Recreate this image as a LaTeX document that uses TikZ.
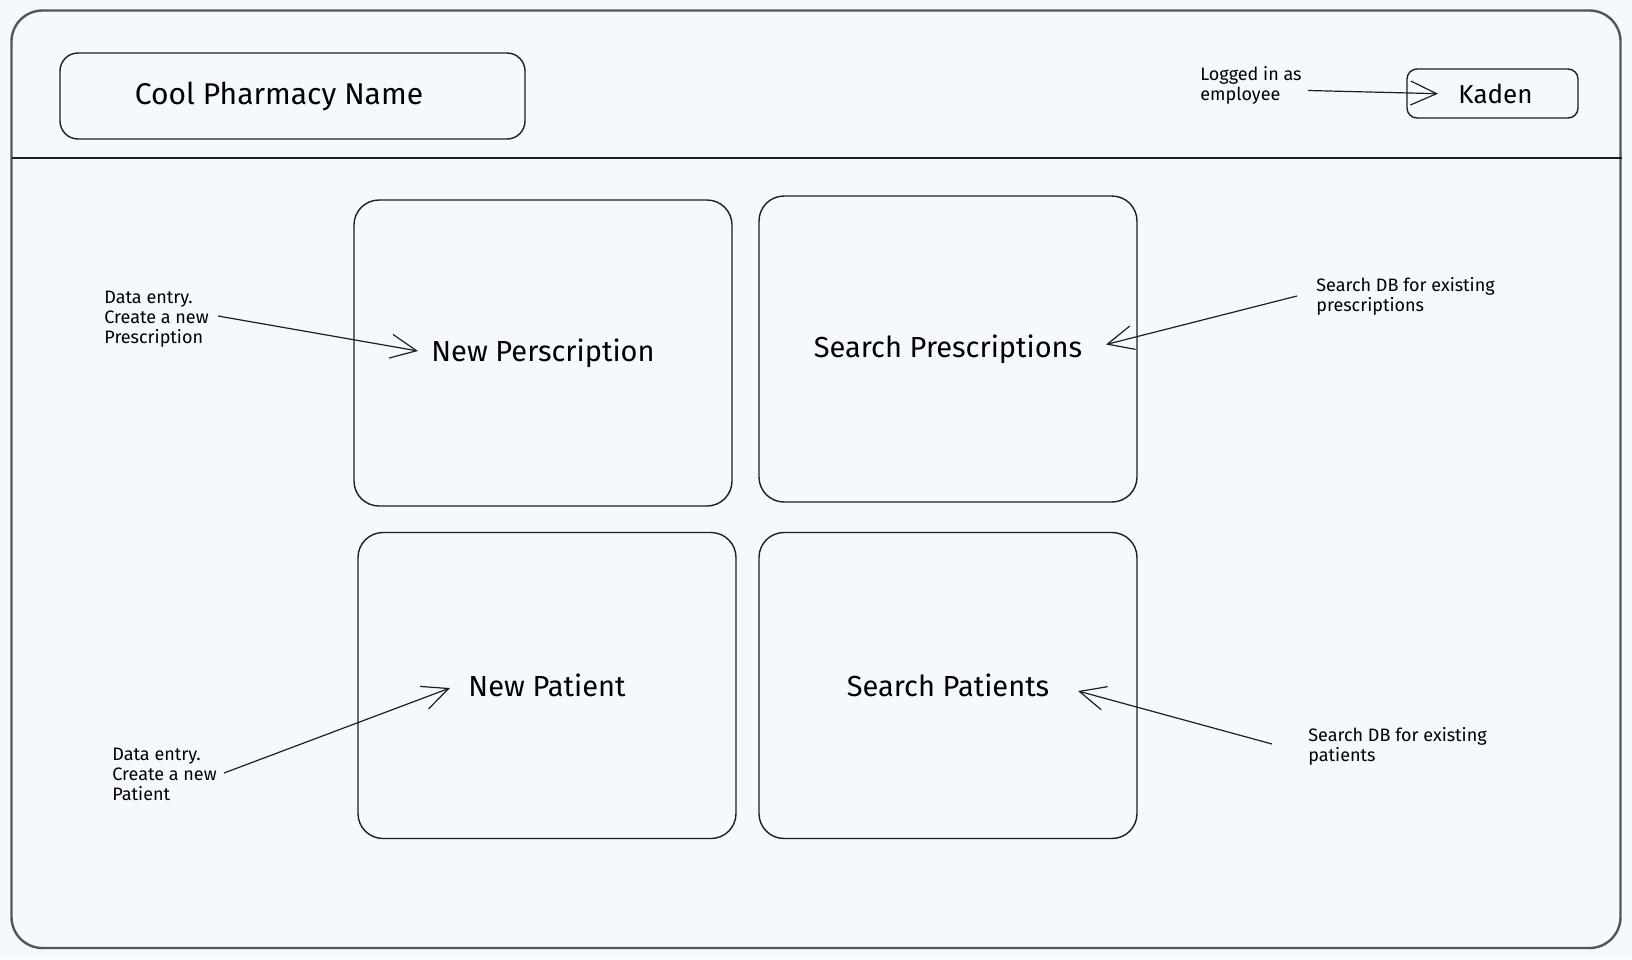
\documentclass[tikz,border=0pt]{standalone}
\usepackage{fontspec}
\setmainfont{Fira Sans}
\usetikzlibrary{arrows.meta}
\definecolor{fond}{RGB}{245, 249, 253}
\definecolor{trait}{RGB}{30, 30, 30}
\definecolor{cadre}{RGB}{85, 85, 85}

\begin{document}
\begin{tikzpicture}[x=0.5pt,y=-0.5pt,
	boite/.style={draw=trait, line width=0.7pt, rounded corners=12.5pt, minimum width=189pt, minimum height=153pt, inner sep=0pt, font=\fontsize{14.5}{17}\selectfont},
	fleche/.style={draw=trait, line width=0.6pt, -{Straight Barb[length=13pt,width=12pt]}},
	note/.style={align=left, anchor=north west, inner sep=0pt, font=\fontsize{9}{9.8}\selectfont}]
				\useasboundingbox[fill=fond] (0,0) rectangle (1632,959);
				\draw[cadre, line width=1.2pt, rounded corners=15.5pt] (11.5,10.5) rectangle (1620.5,948); % le cadre
				\draw[trait, line width=0.7pt] (11.5,158) -- (1622,158); % l'en-tete
				\node[draw=trait, line width=0.7pt, rounded corners=9pt, minimum width=232.5pt, minimum height=43pt, font=\fontsize{15}{18}\selectfont] (nom) at (292.5,96) {Cool Pharmacy Name\hspace*{13.5pt}};
				\node[draw=trait, line width=0.7pt, rounded corners=5pt, minimum width=85.5pt, minimum height=24.5pt, font=\fontsize{13}{16}\selectfont] (kaden) at (1492.5,93.5) {\hspace*{3pt}Kaden};
				\node[boite] (newpresc) at (543,353) {\raisebox{-1.5pt}{New Perscription}};
				\node[boite] (searchpresc) at (948,349) {\raisebox{-1.5pt}{Search Prescriptions}};
				\node[boite] (newpat) at (547,685.5) {New Patient};
				\node[boite] (searchpat) at (948,685.5) {Search Patients};
				\node[note] (logged) at (1200,66) {Logged in as\\employee};
				\node[note] (n1) at (104,291) {Data entry.\\Create a new\\Prescription};
				\node[note] (n2) at (1316,277) {Search DB for existing\\prescriptions};
				\node[note] (n3) at (112,748) {Data entry.\\Create a new\\Patient};
				\node[note] (n4) at (1308,727) {Search DB for existing\\patients};
				% les fleches
				\coordinate (l0) at (1308,90.5);  \coordinate (l1) at (1438,93.7);
				\coordinate (a0) at (218,316);    \coordinate (a1) at (418,351);
				\coordinate (b0) at (1297,296);   \coordinate (b1) at (1106,344.5);
				\coordinate (c0) at (224,773);    \coordinate (c1) at (450,688);
				\coordinate (d0) at (1272,744);   \coordinate (d1) at (1078,691);
				\foreach \Nom in {l,a,b,c,d}{
					\draw[fleche] (\Nom0) -- (\Nom1);}
			\end{tikzpicture}
\end{document}
